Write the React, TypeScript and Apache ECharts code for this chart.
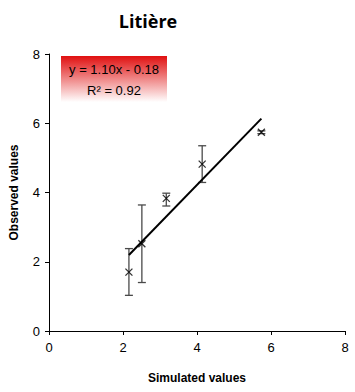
import React, { useEffect, useRef } from "react";
import * as echarts from "echarts";

const simulated = [2.16, 2.51, 3.17, 4.14, 5.74];
const observed = [1.7, 2.52, 3.83, 4.82, 5.74];
const errLow = [1.03, 1.4, 3.61, 4.29, 5.7];
const errHigh = [2.38, 3.64, 3.98, 5.35, 5.78];
const slope = 1.1;
const intercept = -0.18;
const equationText = "y = 1.10x - 0.18";
const r2Text = "R² = 0.92";
const axisTicks = [0, 2, 4, 6, 8];

const crossPath = "path://M0,0L10,10M10,0L0,10";

export default function App() {
  const ref = useRef<HTMLDivElement>(null);
  useEffect(() => {
    if (!ref.current) return;
    const chart = echarts.init(ref.current, null, { renderer: "svg" });
    const xMin = Math.min(...simulated);
    const xMax = Math.max(...simulated);
    const font = "Liberation Sans, Arial, sans-serif";
    chart.setOption({
      animation: false,
      title: {
        text: "Litière",
        left: 143,
        top: 7,
        textAlign: "center",
        textStyle: { fontFamily: "Open Sans, sans-serif", fontWeight: "bold", fontSize: 18, color: "#000" },
      },
      grid: { left: 47, right: 10, top: 54, bottom: 61 },
      xAxis: {
        type: "value",
        min: axisTicks[0],
        max: axisTicks[axisTicks.length - 1],
        interval: 2,
        name: "Simulated values",
        nameLocation: "middle",
        nameGap: 41,
        nameTextStyle: { fontFamily: font, fontWeight: "bold", fontSize: 12, color: "#000" },
        axisLine: { lineStyle: { color: "#000", width: 1 } },
        axisTick: { show: true, length: 4, lineStyle: { color: "#000" } },
        axisLabel: { fontFamily: font, fontSize: 13, color: "#000", margin: 10 },
        splitLine: { show: false },
      },
      yAxis: {
        type: "value",
        min: axisTicks[0],
        max: axisTicks[axisTicks.length - 1],
        interval: 2,
        name: "Observed values",
        nameLocation: "middle",
        nameGap: 29,
        nameTextStyle: { fontFamily: font, fontWeight: "bold", fontSize: 12, color: "#000" },
        axisLine: { show: true, lineStyle: { color: "#000", width: 1 } },
        axisTick: { show: true, length: 4, lineStyle: { color: "#000" } },
        axisLabel: { fontFamily: font, fontSize: 13, color: "#000", margin: 9 },
        splitLine: { show: false },
      },
      graphic: [
        {
          type: "rect",
          shape: { x: 61, y: 56, width: 106, height: 46 },
          style: {
            fill: new echarts.graphic.LinearGradient(0, 0, 0, 1, [
              { offset: 0, color: "#e01010" },
              { offset: 1, color: "#ffffff" },
            ]),
          },
          z: 10,
        },
        {
          type: "text",
          x: 114,
          y: 69,
          style: { text: equationText, fontFamily: font, fontSize: 13, fill: "#000", align: "center", verticalAlign: "middle" },
          z: 11,
        },
        {
          type: "text",
          x: 114,
          y: 90,
          style: { text: r2Text, fontFamily: font, fontSize: 13, fill: "#000", align: "center", verticalAlign: "middle" },
          z: 11,
        },
      ],
      series: [
        {
          type: "custom",
          data: simulated.map((x, i) => [x, errLow[i], errHigh[i]]),
          renderItem: (params: any, api: any) => {
            const x = api.value(0);
            const lo = api.coord([x, api.value(1)]);
            const hi = api.coord([x, api.value(2)]);
            const cw = 4;
            const style = { stroke: "#4a4a4a", lineWidth: 1.3 };
            return {
              type: "group",
              children: [
                { type: "line", shape: { x1: lo[0], y1: lo[1], x2: hi[0], y2: hi[1] }, style },
                { type: "line", shape: { x1: lo[0] - cw, y1: lo[1], x2: lo[0] + cw, y2: lo[1] }, style },
                { type: "line", shape: { x1: hi[0] - cw, y1: hi[1], x2: hi[0] + cw, y2: hi[1] }, style },
              ],
            };
          },
          z: 2,
        },
        {
          type: "line",
          data: [
            [xMin, slope * xMin + intercept],
            [xMax, slope * xMax + intercept],
          ],
          showSymbol: false,
          lineStyle: { color: "#000", width: 2 },
          z: 3,
        },
        {
          type: "scatter",
          data: simulated.map((x, i) => [x, observed[i]]),
          symbol: crossPath,
          symbolSize: 7,
          itemStyle: { color: "none", borderColor: "#000", borderWidth: 1.3 },
          z: 4,
        },
      ],
    });
    return () => chart.dispose();
  }, []);
  return <div ref={ref} style={{ width: 355, height: 392, position: "absolute", left: 0, top: 0 }} />;
}
